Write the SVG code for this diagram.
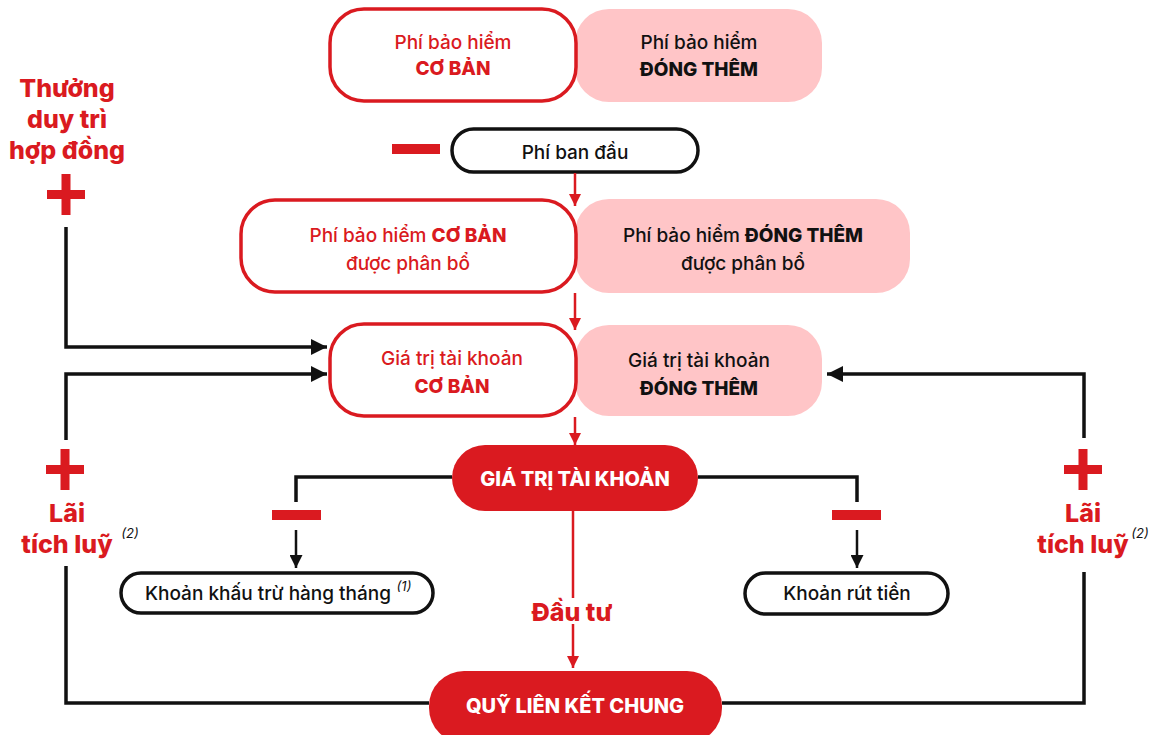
<svg xmlns="http://www.w3.org/2000/svg" width="1153" height="735" viewBox="0 0 1153 735">
<style>
text{font-family:Inter,"Noto Sans","Liberation Sans",sans-serif;text-anchor:middle;dominant-baseline:central}
.t{font-size:19px;font-weight:500}
.b{font-weight:800}
.red{fill:#DA1A20}
.blk{fill:#111}
.wht{fill:#fff;font-weight:800;font-size:20px}
.big{font-size:25px;font-weight:800;fill:#DA1A20}
.pink{fill:#FFC5C7}
.rbox{fill:#fff;stroke:#DA1A20;stroke-width:3.5}
.kbox{fill:#fff;stroke:#111;stroke-width:3.5}
.pill{fill:#DA1A20}
.cr{fill:none;stroke:#DA1A20;stroke-width:2.5}
.ck{fill:none;stroke:#111;stroke-width:3.5}
.ck2{fill:none;stroke:#111;stroke-width:2.5}
.sign{fill:#DA1A20}
.sup{font-size:13px;font-style:italic;font-weight:400;fill:#111}
</style>
<defs>
<marker id="ar" viewBox="0 0 12 12" refX="12" refY="6" markerWidth="12" markerHeight="12" markerUnits="userSpaceOnUse" orient="auto"><path d="M0,0 L12,6 L0,12 z" fill="#DA1A20"/></marker>
<marker id="ak" viewBox="0 0 16 16" refX="16" refY="8" markerWidth="16" markerHeight="16" markerUnits="userSpaceOnUse" orient="auto"><path d="M0,0 L16,8 L0,16 z" fill="#111"/></marker>
<marker id="aks" viewBox="0 0 12 12" refX="12" refY="6" markerWidth="13" markerHeight="13" markerUnits="userSpaceOnUse" orient="auto"><path d="M0,0 L12,6 L0,12 z" fill="#111"/></marker>
</defs>

<g id="phi-dong-them">
<rect class="pink" x="575" y="9" width="247" height="93" rx="34"/>
<text class="t blk" x="699" y="42">Phí bảo hiểm</text>
<text class="t b blk" x="699" y="69">ĐÓNG THÊM</text>
</g>
<g id="phi-co-ban">
<rect class="rbox" x="330" y="9" width="246" height="92" rx="34"/>
<text class="t red" x="453" y="42">Phí bảo hiểm</text>
<text class="t b red" x="453" y="68">CƠ BẢN</text>
</g>

<g id="phi-ban-dau">
<rect class="kbox" x="452" y="129" width="246" height="43" rx="21.5"/>
<text class="t blk" x="575" y="152">Phí ban đầu</text>
</g>
<g id="minus-phi-ban-dau"><rect class="sign" x="392" y="144" width="48" height="10"/></g>

<g id="dong-them-phan-bo">
<rect class="pink" x="575" y="199" width="335" height="94" rx="34"/>
<text class="t blk" x="743" y="235">Phí bảo hiểm <tspan class="b">ĐÓNG THÊM</tspan></text>
<text class="t blk" x="743" y="263">được phân bổ</text>
</g>
<g id="co-ban-phan-bo">
<rect class="rbox" x="241" y="200" width="335" height="92" rx="34"/>
<text class="t red" x="408" y="235">Phí bảo hiểm <tspan class="b">CƠ BẢN</tspan></text>
<text class="t red" x="408" y="263">được phân bổ</text>
</g>

<g id="gttk-dong-them">
<rect class="pink" x="575" y="325" width="247" height="91" rx="34"/>
<text class="t blk" x="699" y="360">Giá trị tài khoản</text>
<text class="t b blk" x="699" y="388">ĐÓNG THÊM</text>
</g>
<g id="gttk-co-ban">
<rect class="rbox" x="330" y="324" width="246" height="92" rx="34"/>
<text class="t red" x="452" y="358">Giá trị tài khoản</text>
<text class="t b red" x="452" y="386">CƠ BẢN</text>
</g>

<g id="gia-tri-tai-khoan">
<rect class="pill" x="452" y="445" width="246" height="66" rx="33"/>
<text class="wht" x="575" y="479">GIÁ TRỊ TÀI KHOẢN</text>
</g>

<g id="quy-lien-ket-chung">
<rect class="pill" x="429" y="671" width="293" height="72" rx="35"/>
<text class="wht" x="575" y="706">QUỸ LIÊN KẾT CHUNG</text>
</g>

<g id="khau-tru">
<rect class="kbox" x="121" y="573" width="312" height="40" rx="20"/>
<text class="t blk" x="268" y="593">Khoản khấu trừ hàng tháng</text>
<text class="sup" x="404" y="586">(1)</text>
</g>
<g id="rut-tien">
<rect class="kbox" x="745" y="573" width="203" height="41" rx="20.5"/>
<text class="t blk" x="847" y="593">Khoản rút tiền</text>
</g>

<g id="thuong-duy-tri">
<text class="big" x="67" y="88">Thưởng</text>
<text class="big" x="67" y="119">duy trì</text>
<text class="big" x="67" y="150">hợp đồng</text>
<rect class="sign" x="47" y="190" width="38" height="9"/>
<rect class="sign" x="61.5" y="174" width="9" height="41"/>
</g>

<g id="lai-tich-luy-trai">
<rect class="sign" x="46" y="465" width="38" height="9"/>
<rect class="sign" x="60.5" y="449" width="9" height="41"/>
<text class="big" x="67" y="513">Lãi</text>
<text class="big" x="67" y="544">tích luỹ</text>
<text class="sup" x="130" y="533">(2)</text>
</g>

<g id="lai-tich-luy-phai">
<rect class="sign" x="1064" y="465" width="38" height="9"/>
<rect class="sign" x="1078.5" y="449" width="9" height="41"/>
<text class="big" x="1083" y="513">Lãi</text>
<text class="big" x="1083" y="544">tích luỹ</text>
<text class="sup" x="1140" y="533">(2)</text>
</g>

<g id="minus-khau-tru"><rect class="sign" x="272" y="510" width="49" height="10"/></g>
<g id="minus-rut-tien"><rect class="sign" x="832" y="510" width="49" height="10"/></g>

<g id="connectors">
<path class="cr" d="M575,173 V206" marker-end="url(#ar)"/>
<path class="cr" d="M575,293 V330" marker-end="url(#ar)"/>
<path class="cr" d="M575,417 V445" marker-end="url(#ar)"/>
<path class="cr" d="M573,511 V598"/>
<text class="big" x="572" y="612" font-size="23">Đầu tư</text>
<path class="cr" d="M573,624 V668" marker-end="url(#ar)"/>
<path class="ck" d="M66,227 V347 H327" marker-end="url(#ak)"/>
<path class="ck" d="M66,440 V374 H327" marker-end="url(#ak)"/>
<path class="ck" d="M66,566 V703 H429"/>
<path class="ck" d="M1084,438 V374 H827" marker-end="url(#ak)"/>
<path class="ck" d="M1084,572 V703 H722"/>
<path class="ck" d="M452,477 H296 V502"/>
<path class="ck" d="M698,477 H857 V502"/>
<path class="ck2" d="M296,530 V568" marker-end="url(#aks)"/>
<path class="ck2" d="M857,530 V568" marker-end="url(#aks)"/>
</g>
</svg>
